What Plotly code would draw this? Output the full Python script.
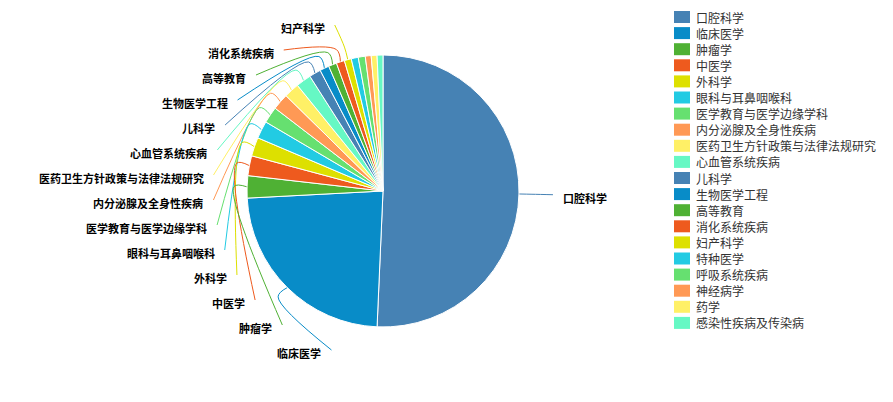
import numpy as np
import plotly.graph_objects as go

# ---------------- data ----------------
categories = ["口腔科学", "临床医学", "肿瘤学", "中医学", "外科学", "眼科与耳鼻咽喉科",
              "医学教育与医学边缘学科", "内分泌腺及全身性疾病", "医药卫生方针政策与法律法规研究",
              "心血管系统疾病", "儿科学", "生物医学工程", "高等教育", "消化系统疾病", "妇产科学",
              "特种医学", "呼吸系统疾病", "神经病学", "药学", "感染性疾病及传染病"]
values = [365, 169, 19, 17, 16, 15, 14, 14, 13, 13, 10, 8, 7, 7, 6, 6, 6, 5, 5, 5]
palette = ["#4682B4", "#088CC8", "#4FB134", "#EE5A1E", "#DDE000",
           "#22CBE3", "#66E070", "#FF9955", "#FFF066", "#66F8C4"]
labelled = 15  # number of slices whose label is shown (rest hidden by overlap)

# ---------------- layout constants ----------------
W, H = 893, 402
CX, CY, R = 383, 191, 136
LEN1 = 13
R_LAB, LAB_CY = 170, 188
TOP, GAP = 25, 25
LEG_X, LEG_TOP, LEG_GAP = 674, 17, 16.1
FONT = "Noto Sans CJK SC"

colors = [palette[i % len(palette)] for i in range(len(categories))]
vals = np.array(values, dtype=float)
cum = np.cumsum(vals) / vals.sum() * 360.0
start = np.concatenate([[0.0], cum[:-1]])
mid = (start + cum) / 2.0


def pt(r, ang):
    a = np.radians(ang)
    return CX + r * np.sin(a), CY - r * np.cos(a)


fig = go.Figure()

fig.add_trace(go.Pie(
    labels=categories, values=values, sort=False, direction="clockwise", rotation=0,
    marker=dict(colors=colors, line=dict(color="#ffffff", width=1)),
    textinfo="none", showlegend=False, hoverinfo="label+value+percent",
    domain=dict(x=[(CX - R) / W, (CX + R) / W],
                y=[(H - CY - R) / H, (H - CY + R) / H]),
))

annotations = []
shapes = []

# label positions
ends = {}
left = [i for i in range(labelled) if mid[i] > 180]
left_sorted = sorted(left, key=lambda i: -mid[i])  # top to bottom
for k, i in enumerate(left_sorted):
    ey = TOP + GAP * k
    dy = ey - LAB_CY
    ex = CX - np.sqrt(max(R_LAB ** 2 - dy ** 2, 0))
    ends[i] = (ex, ey, "left")
for i in range(labelled):
    if mid[i] <= 180:
        ex, ey = pt(R_LAB, mid[i])
        ends[i] = (ex, ey, "right")

for i, (ex, ey, side) in ends.items():
    x0, y0 = pt(R, mid[i])
    x1, y1 = pt(R + LEN1, mid[i])
    fig.add_trace(go.Scatter(
        x=[x0, x1, ex], y=[y0, y1, ey], mode="lines",
        line=dict(color=colors[i], width=1, shape="spline", smoothing=1.0),
        hoverinfo="skip", showlegend=False))
    lab_font = dict(family=FONT, size=11, color="#000", weight="bold")
    if side == "left":
        annotations.append(dict(x=ex - 8, y=ey + 3, xref="x", yref="y", text=categories[i],
                                showarrow=False, xanchor="right", yanchor="middle",
                                font=lab_font))
    else:
        annotations.append(dict(x=ex + 8, y=ey + 3, xref="x", yref="y", text=categories[i],
                                showarrow=False, xanchor="left", yanchor="middle",
                                font=lab_font))

# legend
for k, cat in enumerate(categories):
    yc = LEG_TOP + LEG_GAP * k
    shapes.append(dict(type="rect", xref="x", yref="y", x0=LEG_X, x1=LEG_X + 16,
                       y0=yc - 6, y1=yc + 6, fillcolor=colors[k], line=dict(width=0)))
    annotations.append(dict(x=LEG_X + 20, y=yc, xref="x", yref="y", text=cat,
                            showarrow=False, xanchor="left", yanchor="middle",
                            font=dict(family=FONT, size=12, color="#333")))

fig.update_layout(
    width=W, height=H, margin=dict(l=0, r=0, t=0, b=0),
    paper_bgcolor="#ffffff", plot_bgcolor="rgba(0,0,0,0)",
    xaxis=dict(range=[0, W], visible=False, fixedrange=True),
    yaxis=dict(range=[H, 0], visible=False, fixedrange=True),
    annotations=annotations, shapes=shapes, showlegend=False,
    font=dict(family=FONT),
)

fig.write_html("out.html", config={"displayModeBar": False},
               post_script="document.body.style.margin='0px';")
